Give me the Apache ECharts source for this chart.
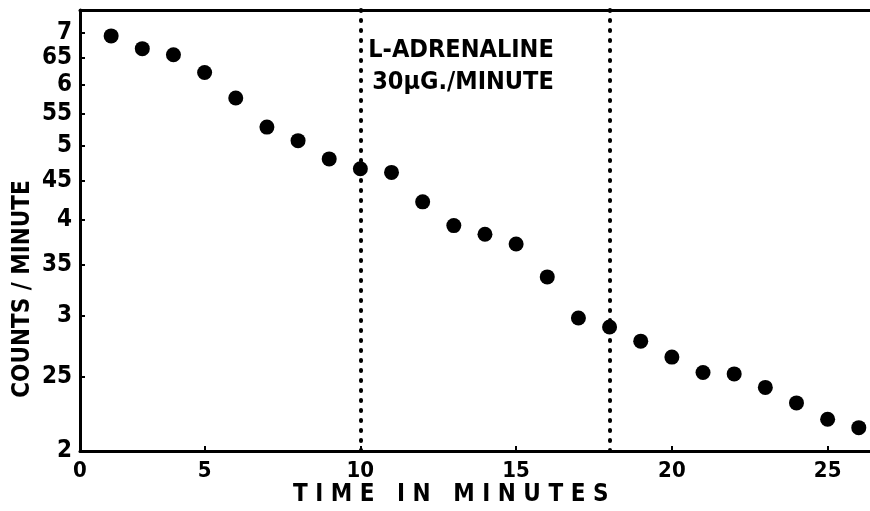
<!DOCTYPE html>
<html>
<head>
<meta charset="utf-8">
<script src="https://cdn.jsdelivr.net/npm/echarts@6/dist/echarts.min.js"></script>
<style>
  html, body { margin: 0; padding: 0; background: #fff; }
  #main { width: 870px; height: 511px; }
</style>
</head>
<body>
<div id="main"></div>
<script>
// data
var minutes = [2, 3, 4, 5, 6, 7, 8, 9, 10, 11, 12, 13, 14, 15, 16, 17, 18, 19, 20, 21, 22, 23, 24, 25, 26];
var counts = [6.94, 6.68, 6.56, 6.22, 5.76, 5.28, 5.07, 4.80, 4.66, 4.61, 4.22, 3.93, 3.83, 3.72, 3.37,
              2.98, 2.90, 2.78, 2.65, 2.53, 2.52, 2.42, 2.31, 2.20, 2.145];
var adrenalineStartEnd = [10, 18];

var xTickValues = [1, 5, 10, 15, 20, 25];
var xTickLabels = ['0', '5', '10', '15', '20', '25'];
var yTickValues = [2, 2.5, 3, 3.5, 4, 4.5, 5, 5.5, 6, 6.5, 7];
var yTickLabels = ['2', '25', '3', '35', '4', '45', '5', '55', '6', '65', '7'];

var myChart = echarts.init(document.getElementById('main'));

var points = minutes.map(function (m, i) { return [m, counts[i]]; });
var font = '"DejaVu Sans Condensed", "DejaVu Sans", sans-serif';

var option = {
    backgroundColor: '#fff',
    animation: false,
    grid: { left: 80, right: 0, top: 10, bottom: 60 },
    xAxis: [{
        type: 'value',
        min: 1,
        max: 26.36,
        splitLine: { show: false },
        axisLine: { lineStyle: { color: '#000', width: 3 } },
        axisTick: { inside: true, length: 5, lineStyle: { color: '#000', width: 2 },
                    customValues: xTickValues.slice(1) },
        axisLabel: {
            customValues: xTickValues,
            formatter: function (v) { return xTickLabels[xTickValues.indexOf(v)]; },
            color: '#000', fontFamily: font, fontWeight: 'bold', fontSize: 22, margin: 9,
            padding: [0, 0, 0, 0]
        }
    }, {
        type: 'value',
        position: 'top',
        min: 1,
        max: 26.36,
        splitLine: { show: false },
        axisLine: { show: true, lineStyle: { color: '#000', width: 3 } },
        axisTick: { show: false },
        axisLabel: { show: false }
    }],
    yAxis: {
        type: 'log',
        min: 2,
        max: 7.5,
        splitLine: { show: false },
        axisLine: { show: true, lineStyle: { color: '#000', width: 3 } },
        axisTick: { show: true, inside: true, length: 5, lineStyle: { color: '#000', width: 2 },
                    customValues: yTickValues.slice(1) },
        axisLabel: {
            customValues: yTickValues,
            formatter: function (v) {
                for (var i = 0; i < yTickValues.length; i++) {
                    if (Math.abs(yTickValues[i] - v) < 1e-6) return yTickLabels[i];
                }
                return '';
            },
            color: '#000', fontFamily: font, fontWeight: 'bold', fontSize: 24, margin: 8
        }
    },
    graphic: [{
        type: 'text',
        left: 293, top: 483,
        style: { text: 'T I M E   I N   M I N U T E S', fill: '#000',
                 font: 'bold 24px ' + font }
    }, {
        type: 'text',
        x: 11, y: 289,
        rotation: Math.PI / 2,
        style: { text: 'COUNTS / MINUTE', fill: '#000', font: 'bold 24px ' + font,
                 align: 'center', verticalAlign: 'top' }
    }, {
        type: 'text',
        x: 461, y: 50,
        style: { text: 'L-ADRENALINE', fill: '#000', font: 'bold 25px ' + font,
                 align: 'center', verticalAlign: 'middle' }
    }, {
        type: 'text',
        x: 463, y: 82,
        style: { text: '30\u03bcG./MINUTE', fill: '#000', font: 'bold 25px ' + font,
                 align: 'center', verticalAlign: 'middle' }
    }],
    series: [{
        type: 'scatter',
        data: points,
        symbol: 'circle',
        symbolSize: 15,
        itemStyle: { color: '#000', opacity: 1 },
        markLine: {
            silent: true,
            symbol: 'none',
            label: { show: false },
            lineStyle: { color: '#000', width: 4, type: [1, 9], cap: 'round', opacity: 1 },
            data: adrenalineStartEnd.map(function (t) { return { xAxis: t }; })
        }
    }]
};

myChart.setOption(option);
</script>
</body>
</html>
